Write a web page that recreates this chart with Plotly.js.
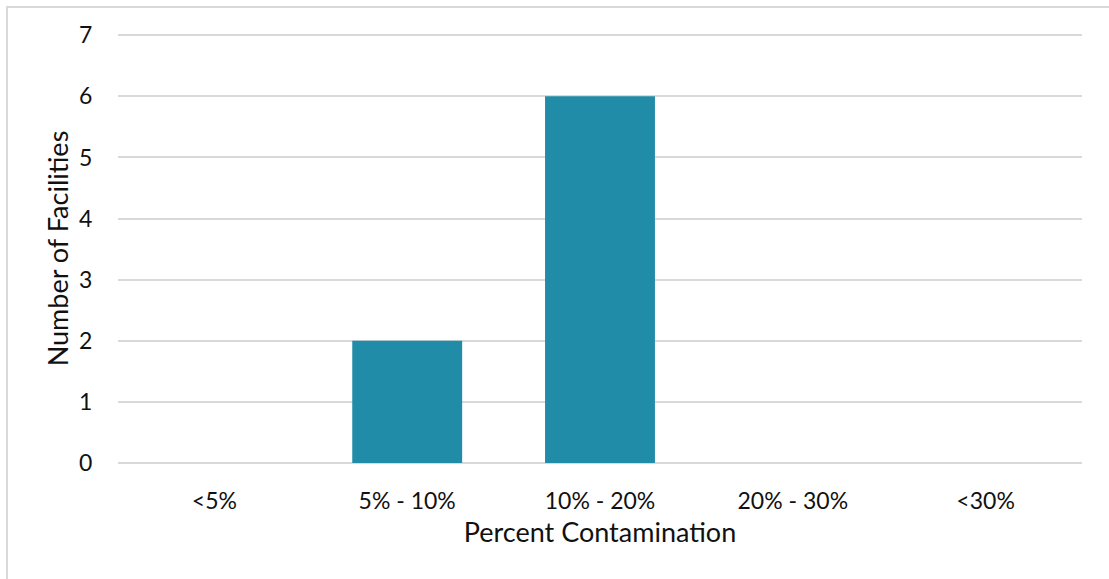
<!DOCTYPE html>
<html><head><meta charset="utf-8">
<script src="https://cdn.plot.ly/plotly-3.0.1.min.js"></script>
<style>
html,body{margin:0;padding:0;background:#fff;}
#frame{position:absolute;left:6px;top:6px;width:1110px;height:580px;border-left:2px solid #d9d9d9;border-top:2px solid #d9d9d9;box-sizing:border-box;}
#chart{position:absolute;left:0;top:0;width:1109px;height:579px;}
</style></head>
<body>
<div id="frame"></div>
<div id="chart"></div>
<script>
const categories = ['<5%', '5% - 10%', '10% - 20%', '20% - 30%', '<30%'];
const facilities = [0, 2, 6, 0, 0];
const tickVals = [0, 1, 2, 3, 4, 5, 6, 7];

const fontFam = 'Lato, "Noto Sans", sans-serif';
Plotly.newPlot('chart', [{
  type: 'bar',
  x: categories,
  y: facilities,
  marker: {color: '#208ca8', line: {width: 0}},
  width: 0.57,
  hoverinfo: 'x+y'
}], {
  width: 1109, height: 579,
  margin: {l: 118, r: 27, t: 34, b: 116},
  paper_bgcolor: 'rgba(0,0,0,0)',
  plot_bgcolor: 'rgba(0,0,0,0)',
  font: {family: fontFam, color: '#111', size: 23},
  showlegend: false,
  xaxis: {
    type: 'category',
    automargin: false,
    showgrid: false,
    zeroline: false,
    showline: false,
    ticks: 'outside',
    ticklen: 17,
    tickcolor: 'rgba(0,0,0,0)',
    tickfont: {size: 23, color: '#111'},
    title: {text: 'Percent Contamination', font: {size: 27, color: '#111'}, standoff: 10}
  },
  yaxis: {
    range: [0, 7.02],
    automargin: false,
    tickvals: tickVals,
    showgrid: true,
    gridcolor: '#d9d9d9',
    gridwidth: 2,
    zeroline: true,
    zerolinecolor: '#d9d9d9',
    zerolinewidth: 2,
    showline: false,
    ticks: 'outside',
    ticklen: 20,
    tickcolor: 'rgba(0,0,0,0)',
    tickfont: {size: 23, color: '#111'},
    title: {text: 'Number of Facilities', font: {size: 27, color: '#111'}, standoff: 2}
  }
}, {displayModeBar: false, staticPlot: true});
</script>
</body></html>
